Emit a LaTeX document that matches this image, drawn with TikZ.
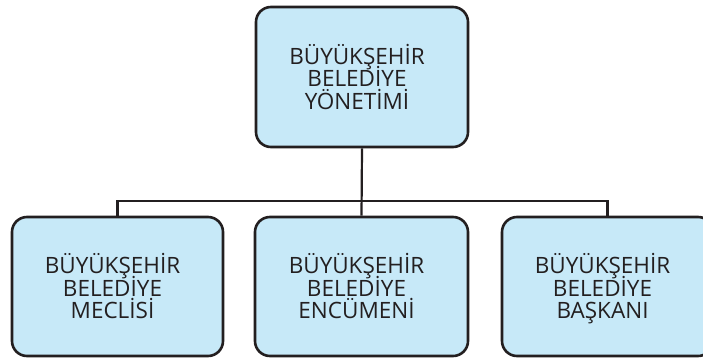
\documentclass[tikz,border=0pt]{standalone}
\usepackage{fontspec}
\setmainfont{Open Sans}
\definecolor{boxfill}{HTML}{C7E9F8}
\definecolor{inkgray}{HTML}{231F20}
% three centred lines at a fixed pitch, padded on the right so the block sits a little left of
% centre, and lowered slightly without changing the box extent
\newcommand{\boxtext}[3]{\raisebox{-5pt}[\height][\depth]{%
  \begin{tabular}{@{}c@{\hspace{10pt}}}\smash{#1}\\\smash{#2}\\\smash{#3}\end{tabular}}}
\begin{document}
\begin{tikzpicture}[x=1pt,y=-1pt,
  orgbox/.style={draw=inkgray, line width=2.6pt, fill=boxfill, rounded corners=15pt,
    minimum width=211pt, minimum height=139pt, inner sep=0pt,
    text=inkgray, font=\fontsize{22.5}{22.5}\selectfont},
  link/.style={draw=inkgray, line width=2.2pt}]
  \useasboundingbox (0,0) rectangle (703,359);
  \node[orgbox, minimum width=212pt, minimum height=140pt] (top) at (362,77) {\boxtext{BÜYÜKŞEHİR}{BELEDİYE}{YÖNETİMİ}};
  \node[orgbox] (meclis) at (117.5,286.5) {\boxtext{BÜYÜKŞEHİR}{BELEDİYE}{MECLİSİ}};
  \node[orgbox, minimum width=213pt] (encumen) at (361.5,286.5) {\boxtext{BÜYÜKŞEHİR}{BELEDİYE}{ENCÜMENİ}};
  \node[orgbox] (baskan) at (607.5,286.5) {\boxtext{BÜYÜKŞEHİR}{BELEDİYE}{BAŞKANI}};
  \coordinate (bus) at (362,201);
  \draw[link] (top.south) -- (encumen.north);
  \draw[link] (meclis.north) |- (bus) -| (baskan.north);
\end{tikzpicture}
\end{document}
